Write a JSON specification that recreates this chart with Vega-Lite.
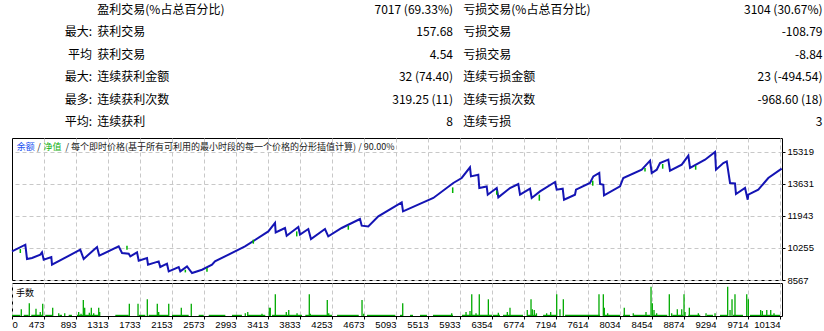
{
  "$schema": "https://vega.github.io/schema/vega-lite/v6.json",
  "padding": {"left": 7, "top": 0, "right": 0, "bottom": 0},
  "background": "#ffffff",
  "bounds": "flush",
  "spacing": 3,
  "config": {
    "view": {"stroke": "#000000", "strokeWidth": 1},
    "axis": {"labelFont": "Liberation Sans", "labelFontSize": 9.5, "labelColor": "#000000", "tickColor": "#000000", "gridColor": "#c8c8c8", "gridDash": [4, 3], "gridWidth": 1, "labelOverlap": false, "labelBound": false, "tickCount": 40},
    "text": {"font": "Noto Sans CJK SC"}
  },
  "datasets": {
    "table": [
      {"row": 0, "prefix": "", "label": "盈利交易(%占总百分比)", "v1": "7017 (69.33%)", "label2": "亏损交易(%占总百分比)", "v2": "3104 (30.67%)"},
      {"row": 1, "prefix": "最大:", "label": "获利交易", "v1": "157.68", "label2": "亏损交易", "v2": "-108.79"},
      {"row": 2, "prefix": "平均\u2002", "label": "获利交易", "v1": "4.54", "label2": "亏损交易", "v2": "-8.84"},
      {"row": 3, "prefix": "最大:", "label": "连续获利金额", "v1": "32 (74.40)", "label2": "连续亏损金额", "v2": "23 (-494.54)"},
      {"row": 4, "prefix": "最多:", "label": "连续获利次数", "v1": "319.25 (11)", "label2": "连续亏损次数", "v2": "-968.60 (18)"},
      {"row": 5, "prefix": "平均:", "label": "连续获利", "v1": "8", "label2": "连续亏损", "v2": "3"}
    ],
    "balance": [
      {"trade": 53, "balance": 10076}, {"trade": 228, "balance": 10429}, {"trade": 250, "balance": 9675}, {"trade": 316, "balance": 9728},
      {"trade": 424, "balance": 9902}, {"trade": 447, "balance": 10023}, {"trade": 469, "balance": 9638}, {"trade": 569, "balance": 9780},
      {"trade": 578, "balance": 9374}, {"trade": 949, "balance": 10165}, {"trade": 994, "balance": 9675}, {"trade": 1103, "balance": 10076},
      {"trade": 1169, "balance": 10308}, {"trade": 1199, "balance": 9849}, {"trade": 1453, "balance": 10339}, {"trade": 1497, "balance": 9991},
      {"trade": 1585, "balance": 9954}, {"trade": 1606, "balance": 9812}, {"trade": 1694, "balance": 10023}, {"trade": 1716, "balance": 9585},
      {"trade": 1825, "balance": 9728}, {"trade": 1838, "balance": 9374}, {"trade": 1978, "balance": 9548}, {"trade": 1999, "balance": 9253},
      {"trade": 2087, "balance": 9427}, {"trade": 2110, "balance": 9021}, {"trade": 2241, "balance": 9253}, {"trade": 2262, "balance": 9021},
      {"trade": 2350, "balance": 9284}, {"trade": 2416, "balance": 8936}, {"trade": 2547, "balance": 9110}, {"trade": 2678, "balance": 9374},
      {"trade": 2717, "balance": 9548}, {"trade": 3111, "balance": 10339}, {"trade": 3417, "balance": 11131}, {"trade": 3505, "balance": 11574},
      {"trade": 3514, "balance": 11078}, {"trade": 3636, "balance": 11310}, {"trade": 3658, "balance": 10904}, {"trade": 3811, "balance": 11363},
      {"trade": 3833, "balance": 10957}, {"trade": 3942, "balance": 11257}, {"trade": 3977, "balance": 10730}, {"trade": 4161, "balance": 11257},
      {"trade": 4204, "balance": 10867}, {"trade": 4380, "balance": 11310}, {"trade": 4620, "balance": 11785}, {"trade": 4643, "balance": 11431},
      {"trade": 4729, "balance": 11394}, {"trade": 4861, "balance": 11922}, {"trade": 5168, "balance": 12660}, {"trade": 5185, "balance": 12186},
      {"trade": 5583, "balance": 12893}, {"trade": 5845, "balance": 13684}, {"trade": 5955, "balance": 13948}, {"trade": 6064, "balance": 14507},
      {"trade": 6077, "balance": 14032}, {"trade": 6173, "balance": 14122}, {"trade": 6186, "balance": 13420}, {"trade": 6283, "balance": 13504},
      {"trade": 6297, "balance": 13067}, {"trade": 6415, "balance": 13420}, {"trade": 6436, "balance": 12924}, {"trade": 6589, "balance": 13420},
      {"trade": 6698, "balance": 13631}, {"trade": 6721, "balance": 13067}, {"trade": 6852, "balance": 13383}, {"trade": 6874, "balance": 12893},
      {"trade": 6983, "balance": 13241}, {"trade": 7180, "balance": 13737}, {"trade": 7202, "balance": 13330}, {"trade": 7281, "balance": 13383},
      {"trade": 7298, "balance": 12803}, {"trade": 7442, "balance": 13067}, {"trade": 7455, "balance": 13330}, {"trade": 7639, "balance": 13684},
      {"trade": 7683, "balance": 14032}, {"trade": 7761, "balance": 14211}, {"trade": 7771, "balance": 13631}, {"trade": 7814, "balance": 13594},
      {"trade": 7823, "balance": 13030}, {"trade": 8033, "balance": 13504}, {"trade": 8076, "balance": 13948}, {"trade": 8318, "balance": 14385},
      {"trade": 8427, "balance": 14860}, {"trade": 8449, "balance": 14211}, {"trade": 8515, "balance": 14385}, {"trade": 8558, "balance": 14739},
      {"trade": 8667, "balance": 14913}, {"trade": 8689, "balance": 14333}, {"trade": 8843, "balance": 14649}, {"trade": 8930, "balance": 15124},
      {"trade": 8952, "balance": 14475}, {"trade": 9149, "balance": 14913}, {"trade": 9280, "balance": 15319}, {"trade": 9293, "balance": 14385},
      {"trade": 9389, "balance": 14739}, {"trade": 9434, "balance": 14823}, {"trade": 9477, "balance": 13684}, {"trade": 9542, "balance": 13658},
      {"trade": 9555, "balance": 13104}, {"trade": 9674, "balance": 13420}, {"trade": 9709, "balance": 12803}, {"trade": 9717, "balance": 13067},
      {"trade": 9848, "balance": 13330}, {"trade": 9979, "balance": 13948}, {"trade": 10155, "balance": 14438}
    ],
    "equity": [
      {"trade": 162, "hi": 10200, "lo": 9990}, {"trade": 1562, "hi": 10376, "lo": 10165}, {"trade": 2328, "hi": 9110, "lo": 8968},
      {"trade": 2612, "hi": 9200, "lo": 9005}, {"trade": 3220, "hi": 10693, "lo": 10482}, {"trade": 3790, "hi": 11131, "lo": 10867},
      {"trade": 4467, "hi": 11431, "lo": 11220}, {"trade": 5837, "hi": 13452, "lo": 13156}, {"trade": 6974, "hi": 13067, "lo": 12750},
      {"trade": 7675, "hi": 13805, "lo": 13541}, {"trade": 8593, "hi": 14686, "lo": 14438}, {"trade": 9026, "hi": 14596, "lo": 14385},
      {"trade": 8361, "hi": 14475, "lo": 14296}, {"trade": 6415, "hi": 13278, "lo": 13067}
    ],
    "lots": [
      {"trade": 175, "lots": 0.67}, {"trade": 280, "lots": 1.27}, {"trade": 368, "lots": 0.73}, {"trade": 424, "lots": 0.4},
      {"trade": 456, "lots": 1.23}, {"trade": 587, "lots": 0.83}, {"trade": 666, "lots": 0.27}, {"trade": 745, "lots": 0.27},
      {"trade": 928, "lots": 0.4}, {"trade": 959, "lots": 0.23}, {"trade": 989, "lots": 1.6}, {"trade": 1007, "lots": 0.83},
      {"trade": 1068, "lots": 0.33}, {"trade": 1094, "lots": 0.83}, {"trade": 1125, "lots": 0.27}, {"trade": 1191, "lots": 0.83},
      {"trade": 1204, "lots": 0.4}, {"trade": 1593, "lots": 1.23}, {"trade": 1707, "lots": 1.23}, {"trade": 1829, "lots": 1.67},
      {"trade": 1960, "lots": 1.23}, {"trade": 1978, "lots": 0.4}, {"trade": 2110, "lots": 1.23}, {"trade": 2275, "lots": 0.83},
      {"trade": 2406, "lots": 1.23}, {"trade": 3115, "lots": 0.27}, {"trade": 3147, "lots": 0.4}, {"trade": 3334, "lots": 0.23},
      {"trade": 3430, "lots": 0.83}, {"trade": 3443, "lots": 0.83}, {"trade": 3509, "lots": 2.17}, {"trade": 3653, "lots": 0.4},
      {"trade": 3685, "lots": 0.6}, {"trade": 3794, "lots": 0.27}, {"trade": 3955, "lots": 2.17}, {"trade": 3968, "lots": 0.23},
      {"trade": 4191, "lots": 1.6}, {"trade": 4210, "lots": 0.27}, {"trade": 4647, "lots": 1.6}, {"trade": 4669, "lots": 0.23},
      {"trade": 5181, "lots": 1.27}, {"trade": 5824, "lots": 0.27}, {"trade": 6012, "lots": 0.4}, {"trade": 6064, "lots": 0.5},
      {"trade": 6087, "lots": 2.17}, {"trade": 6143, "lots": 0.27}, {"trade": 6186, "lots": 2.17}, {"trade": 6305, "lots": 1.67},
      {"trade": 6436, "lots": 0.33}, {"trade": 6554, "lots": 0.4}, {"trade": 6589, "lots": 0.83}, {"trade": 6816, "lots": 0.6},
      {"trade": 6865, "lots": 1.67}, {"trade": 6882, "lots": 0.67}, {"trade": 6908, "lots": 0.6}, {"trade": 6936, "lots": 0.27},
      {"trade": 7070, "lots": 0.27}, {"trade": 7123, "lots": 0.4}, {"trade": 7202, "lots": 2.17}, {"trade": 7245, "lots": 0.67},
      {"trade": 7289, "lots": 1.67}, {"trade": 7757, "lots": 2.17}, {"trade": 7814, "lots": 2.17}, {"trade": 7827, "lots": 0.83},
      {"trade": 7871, "lots": 0.27}, {"trade": 8089, "lots": 0.83}, {"trade": 8207, "lots": 0.27}, {"trade": 8374, "lots": 0.4},
      {"trade": 8440, "lots": 2.93}, {"trade": 8457, "lots": 1.27}, {"trade": 8479, "lots": 0.6}, {"trade": 8514, "lots": 0.27},
      {"trade": 8680, "lots": 2.17}, {"trade": 8711, "lots": 0.27}, {"trade": 8785, "lots": 0.67}, {"trade": 8843, "lots": 0.67},
      {"trade": 8873, "lots": 2.17}, {"trade": 8886, "lots": 0.4}, {"trade": 8943, "lots": 0.83}, {"trade": 9061, "lots": 0.27},
      {"trade": 9162, "lots": 0.27}, {"trade": 9280, "lots": 0.27}, {"trade": 9446, "lots": 2.93}, {"trade": 9477, "lots": 0.6},
      {"trade": 9503, "lots": 1.67}, {"trade": 9542, "lots": 2.17}, {"trade": 9696, "lots": 2.17}, {"trade": 9717, "lots": 1.67},
      {"trade": 9879, "lots": 0.6}, {"trade": 9901, "lots": 0.5}, {"trade": 9959, "lots": 0.6}, {"trade": 10011, "lots": 0.6},
      {"trade": 10054, "lots": 0.27}
    ],
    "small": [
      {"from": 53, "to": 162, "lots": 0.12}, {"from": 207, "to": 272, "lots": 0.12}, {"from": 306, "to": 447, "lots": 0.12},
      {"from": 490, "to": 578, "lots": 0.12}, {"from": 674, "to": 709, "lots": 0.12}, {"from": 797, "to": 840, "lots": 0.12},
      {"from": 906, "to": 1191, "lots": 0.12}, {"from": 1409, "to": 1585, "lots": 0.12}, {"from": 1716, "to": 1803, "lots": 0.12},
      {"from": 1847, "to": 2110, "lots": 0.12}, {"from": 2153, "to": 2372, "lots": 0.12}, {"from": 2503, "to": 2569, "lots": 0.12},
      {"from": 2635, "to": 2853, "lots": 0.12}, {"from": 2940, "to": 3071, "lots": 0.12}, {"from": 3137, "to": 3377, "lots": 0.12},
      {"from": 3465, "to": 3859, "lots": 0.12}, {"from": 3903, "to": 4253, "lots": 0.12}, {"from": 4319, "to": 4604, "lots": 0.12},
      {"from": 4712, "to": 5084, "lots": 0.12}, {"from": 5145, "to": 5185, "lots": 0.12}, {"from": 5277, "to": 5316, "lots": 0.12},
      {"from": 5408, "to": 5500, "lots": 0.12}, {"from": 5578, "to": 5841, "lots": 0.12}, {"from": 5959, "to": 6353, "lots": 0.12},
      {"from": 6366, "to": 6458, "lots": 0.12}, {"from": 6497, "to": 6760, "lots": 0.12}, {"from": 6812, "to": 6944, "lots": 0.12},
      {"from": 7023, "to": 7207, "lots": 0.12}, {"from": 7312, "to": 7771, "lots": 0.12}, {"from": 7836, "to": 8033, "lots": 0.12},
      {"from": 8073, "to": 8165, "lots": 0.12}, {"from": 8207, "to": 8430, "lots": 0.12}, {"from": 8469, "to": 8653, "lots": 0.12},
      {"from": 8719, "to": 8863, "lots": 0.12}, {"from": 8929, "to": 9086, "lots": 0.12}, {"from": 9175, "to": 9254, "lots": 0.12},
      {"from": 9345, "to": 9437, "lots": 0.12}, {"from": 9516, "to": 9647, "lots": 0.12}, {"from": 9739, "to": 10133, "lots": 0.12}
    ]
  },
  "vconcat": [
    {
      "width": 770,
      "height": 135,
      "view": {"stroke": null},
      "data": {"name": "table"},
      "encoding": {
        "y": {"field": "row", "type": "quantitative", "scale": {"domain": [-0.4356, 5.564], "reverse": true, "nice": false, "zero": false}, "axis": null}
      },
      "layer": [
        {
          "mark": {"type": "text", "align": "right", "baseline": "middle", "fontSize": 12, "color": "#000000"},
          "encoding": {"x": {"datum": 80, "type": "quantitative", "scale": {"domain": [0, 770], "nice": false, "zero": false}, "axis": null}, "text": {"field": "prefix"}}
        },
        {
          "mark": {"type": "text", "align": "left", "baseline": "middle", "fontSize": 12, "color": "#000000"},
          "encoding": {"x": {"datum": 85.3, "type": "quantitative"}, "text": {"field": "label"}}
        },
        {
          "mark": {"type": "text", "align": "right", "baseline": "middle", "fontSize": 12, "color": "#000000"},
          "encoding": {"x": {"datum": 441, "type": "quantitative"}, "text": {"field": "v1"}}
        },
        {
          "mark": {"type": "text", "align": "left", "baseline": "middle", "fontSize": 12, "color": "#000000"},
          "encoding": {"x": {"datum": 451.3, "type": "quantitative"}, "text": {"field": "label2"}}
        },
        {
          "mark": {"type": "text", "align": "right", "baseline": "middle", "fontSize": 12, "color": "#000000"},
          "encoding": {"x": {"datum": 810.5, "type": "quantitative"}, "text": {"field": "v2"}}
        }
      ]
    },
    {
      "width": 770,
      "height": 142,
      "layer": [
        {
          "data": {"name": "balance"},
          "mark": {"type": "line", "color": "#1414b4", "strokeWidth": 2},
          "encoding": {
            "x": {"field": "trade", "type": "quantitative", "scale": {"domain": [53, 10159], "nice": false, "zero": false},
              "axis": {"values": [473, 893, 1313, 1733, 2153, 2573, 2993, 3413, 3833, 4253, 4673, 5093, 5513, 5933, 6354, 6774, 7194, 7614, 8034, 8454, 8874, 9294, 9714, 10134], "tickCount": 40, "labels": false, "ticks": false, "domain": false, "title": null, "grid": true}},
            "y": {"field": "balance", "type": "quantitative", "scale": {"domain": [8567, 16057], "nice": false, "zero": false},
              "axis": {"orient": "right", "values": [8567, 10255, 11943, 13631, 15319], "tickCount": 40, "format": "d", "title": null, "domain": false, "tickSize": 3, "labelPadding": 2, "grid": true, "labelOverlap": false}}
          }
        },
        {
          "data": {"name": "equity"},
          "mark": {"type": "rule", "color": "#00b400", "strokeWidth": 1.5},
          "encoding": {
            "x": {"field": "trade", "type": "quantitative"},
            "y": {"field": "hi", "type": "quantitative"},
            "y2": {"field": "lo"}
          }
        },
        {
          "data": {"values": [{"t": "余额"}]},
          "mark": {"type": "text", "align": "left", "baseline": "middle", "fontSize": 9, "color": "#2050f0"},
          "encoding": {"x": {"datum": 115, "type": "quantitative"}, "y": {"datum": 15583, "type": "quantitative"}, "text": {"field": "t"}}
        },
        {
          "data": {"values": [{"t": "/"}]},
          "mark": {"type": "text", "align": "left", "baseline": "middle", "fontSize": 9, "color": "#202020"},
          "encoding": {"x": {"datum": 385, "type": "quantitative"}, "y": {"datum": 15583, "type": "quantitative"}, "text": {"field": "t"}}
        },
        {
          "data": {"values": [{"t": "净值"}]},
          "mark": {"type": "text", "align": "left", "baseline": "middle", "fontSize": 9, "color": "#10b010"},
          "encoding": {"x": {"datum": 466, "type": "quantitative"}, "y": {"datum": 15583, "type": "quantitative"}, "text": {"field": "t"}}
        },
        {
          "data": {"values": [{"t": "/ 每个即时价格(基于所有可利用的最小时段的每一个价格的分形插值计算) / 90.00%"}]},
          "mark": {"type": "text", "align": "left", "baseline": "middle", "fontSize": 9, "color": "#202020"},
          "encoding": {"x": {"datum": 755, "type": "quantitative"}, "y": {"datum": 15583, "type": "quantitative"}, "text": {"field": "t"}}
        }
      ]
    },
    {
      "width": 770,
      "height": 33,
      "layer": [
        {
          "data": {"name": "small"},
          "mark": {"type": "rect", "color": "#00aa00"},
          "encoding": {
            "x": {"field": "from", "type": "quantitative", "scale": {"domain": [53, 10159], "nice": false, "zero": false},
              "axis": {"values": [53, 473, 893, 1313, 1733, 2153, 2573, 2993, 3413, 3833, 4253, 4673, 5093, 5513, 5933, 6354, 6774, 7194, 7614, 8034, 8454, 8874, 9294, 9714, 10134],
                "tickCount": 40, "format": "d", "labelExpr": "datum.value == 53 ? '0' : datum.label",
                "labelAlign": {"condition": {"test": "datum.value == 53", "value": "left"}, "value": "right"},
                "labelBaseline": "top", "labelPadding": 0, "tickSize": 3, "domain": false, "title": null, "grid": true, "labelOverlap": false}},
            "x2": {"field": "to"},
            "y": {"field": "lots", "type": "quantitative", "scale": {"domain": [0, 3.3], "nice": false, "zero": true}, "axis": null},
            "y2": {"datum": 0}
          }
        },
        {
          "data": {"name": "lots"},
          "mark": {"type": "rule", "color": "#00aa00", "strokeWidth": 1.3},
          "encoding": {
            "x": {"field": "trade", "type": "quantitative"},
            "y": {"field": "lots", "type": "quantitative"},
            "y2": {"datum": 0}
          }
        },
        {
          "data": {"values": [{"t": "手数"}]},
          "mark": {"type": "text", "align": "left", "baseline": "middle", "fontSize": 9, "color": "#000000"},
          "encoding": {"x": {"datum": 105, "type": "quantitative"}, "y": {"datum": 2.35, "type": "quantitative"}, "text": {"field": "t"}}
        }
      ]
    }
  ]
}
